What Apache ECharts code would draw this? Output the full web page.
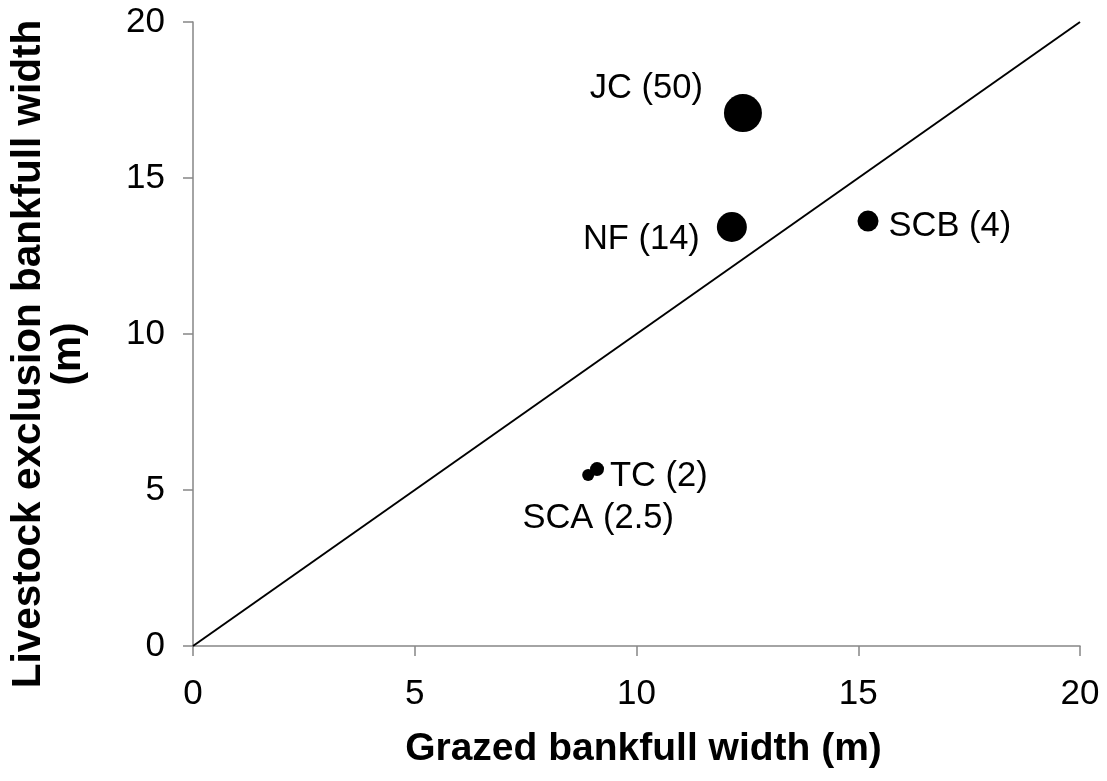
<!DOCTYPE html>
<html>
<head>
<meta charset="utf-8">
<script src="https://cdn.jsdelivr.net/npm/echarts@6/dist/echarts.min.js"></script>
<style>
html,body{margin:0;padding:0;background:#fff;}
#chart{width:1107px;height:781px;}
</style>
</head>
<body>
<div id="chart"></div>
<script>
// Data
const sites = ['JC', 'NF', 'SCB', 'TC', 'SCA'];
const siteValues = ['50', '14', '4', '2', '2.5'];
const grazedWidth = [12.40, 12.15, 15.22, 9.11, 8.91];
const exclusionWidth = [17.08, 13.43, 13.62, 5.67, 5.48];
const markerSize = [38, 30, 21, 14, 12];
const oneToOne = [[0, 0], [20, 20]];
const axisTicks = [0, 5, 10, 15, 20];

const FONT = '"Liberation Sans", Arial, sans-serif';

// label placement (styling only)
const labelStyle = {
  JC:  { position: 'left',   distance: 21, offset: [0, -25] },
  NF:  { position: 'left',   distance: 17, offset: [0, 13] },
  SCB: { position: 'right',  distance: 10, offset: [0, 5] },
  TC:  { position: 'right',  distance: 6,  offset: [0, 7] },
  SCA: { position: 'bottom', distance: 20, offset: [10, 0] }
};

const points = sites.map((s, i) => ({
  name: s,
  value: [grazedWidth[i], exclusionWidth[i]],
  symbolSize: markerSize[i],
  label: Object.assign({
    show: true,
    formatter: s + ' (' + siteValues[i] + ')',
    color: '#000',
    fontSize: 34.5,
    fontFamily: FONT
  }, labelStyle[s])
}));

const axisCommon = {
  type: 'value',
  min: axisTicks[0],
  max: axisTicks[axisTicks.length - 1],
  interval: axisTicks[1] - axisTicks[0],
  axisLine: { show: true, onZero: false, lineStyle: { color: '#868686', width: 1.5 } },
  axisTick: { show: true, inside: false, length: 10, lineStyle: { color: '#868686', width: 1.5 } },
  splitLine: { show: false },
  nameLocation: 'middle'
};

const chart = echarts.init(document.getElementById('chart'), null, { renderer: 'canvas' });
chart.setOption({
  backgroundColor: '#fff',
  animation: false,
  grid: { left: 193, right: 27, top: 22, bottom: 135, containLabel: false, outerBoundsMode: 'none' },
  xAxis: Object.assign({}, axisCommon, {
    name: 'Grazed bankfull width (m)',
    nameGap: 84,
    nameTextStyle: { fontFamily: FONT, fontWeight: 'bold', fontSize: 39, color: '#000', padding: [0, 0, 0, 14] },
    axisLabel: { fontFamily: FONT, fontSize: 35, color: '#000', margin: 31 }
  }),
  yAxis: Object.assign({}, axisCommon, {
    name: 'Livestock exclusion bankfull width\n(m)',
    nameGap: 104,
    nameTextStyle: { fontFamily: FONT, fontWeight: 'bold', fontSize: 40.5, color: '#000', lineHeight: 40, padding: [0, 40, 0, 0] },
    axisLabel: { fontFamily: FONT, fontSize: 35, color: '#000', margin: 28 }
  }),
  series: [
    {
      type: 'line',
      data: oneToOne,
      symbol: 'none',
      lineStyle: { color: '#000', width: 2 },
      z: 1,
      silent: true
    },
    {
      type: 'scatter',
      data: points,
      itemStyle: { color: '#000', opacity: 1 },
      z: 2
    }
  ]
});
</script>
</body>
</html>
